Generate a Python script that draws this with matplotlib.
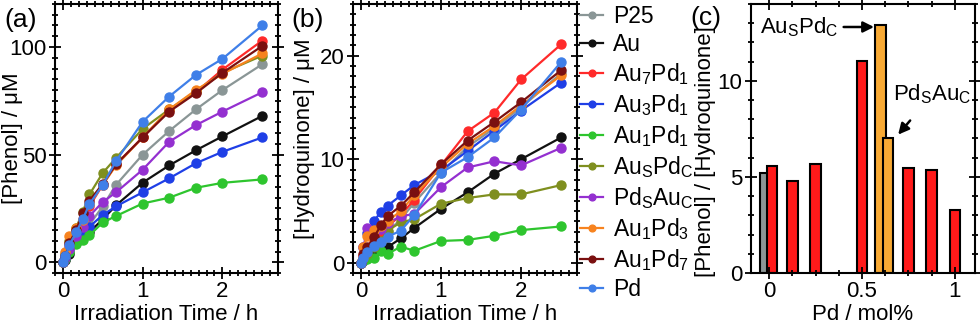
import matplotlib
matplotlib.use('Agg')
import matplotlib.pyplot as plt
from matplotlib.ticker import MultipleLocator, FormatStrFormatter

plt.rcParams['font.family'] = ['Liberation Sans Narrow', 'Liberation Sans', 'DejaVu Sans']
plt.rcParams['mathtext.default'] = 'regular'

# irradiation time / h
times = [0, 0.033, 0.083, 0.167, 0.25, 0.333, 0.5, 0.667, 1, 1.333, 1.667, 2, 2.5]

names = ['P25', 'Au', 'Au$_7$Pd$_1$', 'Au$_3$Pd$_1$', 'Au$_1$Pd$_1$',
         'Au$_S$Pd$_C$', 'Pd$_S$Au$_C$', 'Au$_1$Pd$_3$', 'Au$_1$Pd$_7$', 'Pd']
colors = ['#8a9696', '#111111', '#ff2a2a', '#1f3fe6', '#2ec52e',
          '#7f8f1f', '#9430d0', '#f7831f', '#7a1010', '#3f7fe8']

# [Phenol] / uM
phenol_p25 = [0, 1.5, 5, 10, 14, 17.5, 26, 36, 50, 61, 71, 80, 92]
phenol_au = [0, 1, 4, 9, 12, 14, 20, 26.5, 37, 45, 52, 58.5, 68]
phenol_au7pd1 = [0, 3, 8, 15, 20, 26, 36, 45.5, 58, 70.5, 79, 89.5, 103]
phenol_au3pd1 = [0, 2, 6, 11.5, 13.5, 16.5, 22, 26, 32.5, 39, 46, 51.3, 58]
phenol_au1pd1 = [0, 1.5, 5, 8.5, 10.5, 12.5, 18.5, 21.5, 27.3, 30, 34.6, 36.9, 38.5]
phenol_auspdc = [0, 4, 10, 16, 23.5, 31.5, 41.5, 48.5, 62, 71, 79.5, 88, 96]
phenol_pdsauc = [0, 2, 6, 12, 16.5, 21.5, 28, 32.5, 43, 56, 63.7, 70, 79]
phenol_au1pd3 = [0, 5, 12, 16, 19.5, 27, 36, 45, 58, 71, 80, 87.5, 97]
phenol_au1pd7 = [0, 3, 9, 15, 23, 28.5, 36.5, 45.5, 58, 70, 78.5, 88, 100.5]
phenol_pd = [0, 3, 8, 14, 20, 27, 36, 47, 65.3, 77, 87, 94.5, 110]

# [Hydroquinone] / uM
hq_p25 = [0, 0.5, 1.0, 1.6, 2.3, 3.0, 4.2, 5.8, 8.7, 11.2, 13.0, 15.0, 18.3]
hq_au = [0, 0.3, 0.7, 1.0, 1.3, 1.5, 2.35, 3.35, 5.2, 6.8, 8.6, 10.0, 12.1]
hq_au7pd1 = [0, 0.6, 1.2, 2.0, 2.8, 3.5, 4.6, 6.1, 9.4, 12.7, 14.5, 17.7, 21.1]
hq_au3pd1 = [0, 1.5, 2.9, 4.05, 4.9, 5.5, 6.5, 7.5, 8.9, 10.8, 12.75, 14.7, 17.4]
hq_au1pd1 = [0, 0.2, 0.4, 0.5, 1.15, 0.85, 1.55, 1.15, 2.1, 2.2, 2.6, 3.15, 3.5]
hq_auspdc = [0, 0.4, 0.8, 1.5, 2.1, 3.1, 3.9, 4.2, 5.7, 6.25, 6.6, 6.6, 7.5]
hq_pdsauc = [0, 1.5, 3.4, 3.0, 3.3, 3.8, 4.5, 4.7, 7.3, 9.2, 9.8, 9.4, 11.1]
hq_au1pd3 = [0, 1.5, 2.6, 3.2, 3.5, 4.0, 5.0, 6.5, 9.2, 11.5, 13.2, 15.2, 18.1]
hq_au1pd7 = [0, 0.8, 1.5, 2.5, 3.6, 4.5, 5.5, 6.8, 9.5, 11.8, 13.6, 15.5, 18.6]
hq_pd = [0, 0.5, 1.0, 1.6, 2.0, 2.5, 3.1, 4.6, 8.7, 10.2, 12.1, 14.8, 19.4]

phenol = [phenol_p25, phenol_au, phenol_au7pd1, phenol_au3pd1, phenol_au1pd1,
          phenol_auspdc, phenol_pdsauc, phenol_au1pd3, phenol_au1pd7, phenol_pd]
hq = [hq_p25, hq_au, hq_au7pd1, hq_au3pd1, hq_au1pd1,
      hq_auspdc, hq_pdsauc, hq_au1pd3, hq_au1pd7, hq_pd]

# panel (c): ratio vs Pd content
pd_mol = [-0.02, 0.015, 0.125, 0.25, 0.5, 0.6, 0.64, 0.75, 0.875, 1.0]
ratio = [5.2, 5.57, 4.8, 5.65, 11.05, 12.88, 7.05, 5.45, 5.37, 3.3]
bar_colors = ['#8c9696', '#ff1a1a', '#ff1a1a', '#ff1a1a', '#ff1a1a',
              '#f7a934', '#f7a934', '#ff1a1a', '#ff1a1a', '#ff1a1a']

FS = 16

fig = plt.figure(figsize=(9.8, 3.27), dpi=100)
ax_a = fig.add_axes([0.056, 0.165, 0.228, 0.823])
ax_b = fig.add_axes([0.360, 0.165, 0.229, 0.823])
ax_c = fig.add_axes([0.766, 0.165, 0.229, 0.823])


def style(ax, ylab_x, ylab_y=0.5):
    for s in ax.spines.values():
        s.set_linewidth(1.5)
    ax.tick_params(which='both', direction='inout', top=True, right=True,
                   labelsize=16, width=1.3, pad=2)
    ax.tick_params(which='major', length=8)
    ax.tick_params(which='minor', length=4.5)
    ax.xaxis.label.set_va('baseline')
    ax.xaxis.set_label_coords(0.5, -0.175)
    ax.yaxis.label.set_va('center')
    ax.yaxis.set_label_coords(ylab_x, ylab_y)


for i in range(len(names)):
    ax_a.plot(times, phenol[i], '-o', color=colors[i], lw=1.6, ms=6.5, label=names[i])
    ax_b.plot(times, hq[i], '-o', color=colors[i], lw=1.6, ms=6.5, label=names[i])

ax_a.set_xlim(-0.1, 2.7)
ax_a.set_ylim(-5, 120)
ax_a.xaxis.set_major_locator(MultipleLocator(1))
ax_a.xaxis.set_minor_locator(MultipleLocator(0.1))
ax_a.yaxis.set_major_locator(MultipleLocator(50))
ax_a.yaxis.set_minor_locator(MultipleLocator(5))
ax_a.set_xlabel('Irradiation Time / h', fontsize=FS)
ax_a.set_ylabel('[Phenol] / μM', fontsize=FS)
style(ax_a, -0.19)

ax_b.set_xlim(-0.1, 2.7)
ax_b.set_ylim(-1, 25)
ax_b.xaxis.set_major_locator(MultipleLocator(1))
ax_b.xaxis.set_minor_locator(MultipleLocator(0.1))
ax_b.yaxis.set_major_locator(MultipleLocator(10))
ax_b.yaxis.set_minor_locator(MultipleLocator(1))
ax_b.set_xlabel('Irradiation Time / h', fontsize=FS)
ax_b.set_ylabel('[Hydroquinone] / μM', fontsize=FS)
style(ax_b, -0.215)

ax_c.bar(pd_mol, ratio, width=0.056, color=bar_colors, edgecolor='black', linewidth=1.5)
ax_c.set_xlim(-0.1, 1.11)
ax_c.set_ylim(0, 14)
ax_c.xaxis.set_major_locator(MultipleLocator(0.5))
ax_c.xaxis.set_minor_locator(MultipleLocator(0.125))
ax_c.xaxis.set_major_formatter(FormatStrFormatter('%g'))
ax_c.yaxis.set_major_locator(MultipleLocator(5))
ax_c.yaxis.set_minor_locator(MultipleLocator(1))
ax_c.set_xlabel('Pd / mol%', fontsize=FS)
ax_c.set_ylabel('[Phenol] / [Hydroquinone]', fontsize=FS)
style(ax_c, -0.2, 0.45)

ax_c.annotate('Au$_S$Pd$_C$', xy=(0.565, 12.8), xytext=(0.16, 12.8),
              fontsize=16, ha='center', va='center',
              arrowprops=dict(arrowstyle='-|>', color='black', lw=1.8,
                              mutation_scale=16, shrinkA=2, shrinkB=0))
ax_c.annotate('Pd$_S$Au$_C$', xy=(0.695, 7.2), xytext=(0.88, 9.3),
              fontsize=16, ha='center', va='center',
              arrowprops=dict(arrowstyle='-|>', color='black', lw=1.8,
                              mutation_scale=16, shrinkA=11, shrinkB=0))

fig.legend(*ax_b.get_legend_handles_labels(), loc='upper left',
           bbox_to_anchor=(0.592, 0.985), frameon=False, fontsize=16.5,
           handlelength=1.0, handletextpad=0.45, labelspacing=0.22,
           borderpad=0, borderaxespad=0, markerscale=0.75)

fig.text(0.004, 0.94, '(a)', fontsize=19, va='center')
fig.text(0.297, 0.94, '(b)', fontsize=19, va='center')
fig.text(0.704, 0.945, '(c)', fontsize=19, va='center')

fig.savefig('out.png', dpi=100)
